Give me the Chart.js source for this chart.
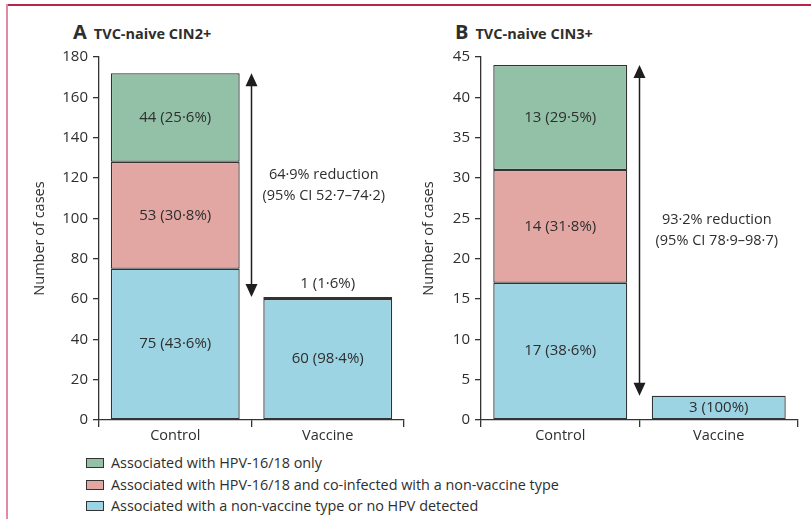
<!DOCTYPE html>
<html>
<head>
<meta charset="utf-8">
<script src="https://cdn.jsdelivr.net/npm/chart.js@4"></script>
<style>
  body { margin: 0; width: 811px; height: 519px; overflow: hidden; background: #fff; position: relative;
         font-family: "Open Sans", sans-serif; color: #2e2e2e; }
  .frame-top { position: absolute; left: 6px; top: 4px; width: 805px; height: 2px; background: #b8234a; }
  .frame-left { position: absolute; left: 6px; top: 4px; width: 2px; height: 515px; background: #df8ca7; }
  canvas { position: absolute; top: 0; }
  #chartA { left: 0; }
  #chartB { left: 410px; }
  .panel-title { position: absolute; top: 20px; font-weight: bold; white-space: nowrap; line-height: 24px; }
  .panel-title .letter { font-size: 20px; margin-right: 7px; }
  .panel-title .name { font-size: 14.5px; }
  .legend { position: absolute; left: 86px; top: 452px; font-size: 14.4px; }
  .legend-row { position: relative; height: 21.5px; line-height: 21.5px; white-space: nowrap; }
  .legend-row .swatch { position: absolute; left: 0; top: 6px; width: 16px; height: 8px; border: 1.3px solid #333; }
  .legend-row .text { position: absolute; left: 25px; top: 0; }
</style>
</head>
<body>
<div class="frame-top"></div>
<div class="frame-left"></div>
<div class="panel-title" style="left:73px"><span class="letter">A</span><span class="name">TVC-naive CIN2+</span></div>
<div class="panel-title" style="left:455px"><span class="letter">B</span><span class="name">TVC-naive CIN3+</span></div>
<canvas id="chartA" width="410" height="450"></canvas>
<canvas id="chartB" width="401" height="450"></canvas>
<div class="legend" id="legend"></div>
<script>
// Groups on the x axis
const categories = ['Control', 'Vaccine'];

// Series names and fills (bottom of stack first)
const seriesNames = [
  'Associated with a non-vaccine type or no HPV detected',
  'Associated with HPV-16/18 and co-infected with a non-vaccine type',
  'Associated with HPV-16/18 only'
];
const seriesColors = ['#9cd4e3', '#e2a7a2', '#93c1a7'];

// Panel A: CIN2+ case counts per series
const cin2NonVaccine = [75, 60];
const cin2Coinfected = [53, 0];
const cin2Hpv1618 = [44, 1];
const cin2PctNonVaccine = ['43·6%', '98·4%'];
const cin2PctCoinfected = ['30·8%', ''];
const cin2PctHpv1618 = ['25·6%', '1·6%'];
const cin2AxisMax = 180;
const cin2AxisStep = 20;
const cin2Reduction = ['64·9% reduction', '(95% CI 52·7–74·2)'];

// Panel B: CIN3+ case counts per series
const cin3NonVaccine = [17, 3];
const cin3Coinfected = [14, 0];
const cin3Hpv1618 = [13, 0];
const cin3PctNonVaccine = ['38·6%', '100%'];
const cin3PctCoinfected = ['31·8%', ''];
const cin3PctHpv1618 = ['29·5%', ''];
const cin3AxisMax = 45;
const cin3AxisStep = 5;
const cin3Reduction = ['93·2% reduction', '(95% CI 78·9–98·7)'];

const INK = '#2e2e2e';
const FONT = '"Open Sans", sans-serif';

// Legend below both panels (top series first)
const legend = document.getElementById('legend');
[2, 1, 0].forEach(i => {
  const row = document.createElement('div');
  row.className = 'legend-row';
  row.innerHTML = '<span class="swatch" style="background:' + seriesColors[i] + '"></span><span class="text"></span>';
  row.querySelector('.text').textContent = seriesNames[i];
  legend.appendChild(row);
});

// Writes "n (pct)" inside each segment, or above the stack when the segment is too thin
const segmentLabels = {
  id: 'segmentLabels',
  afterDatasetsDraw(chart) {
    const ctx = chart.ctx;
    ctx.save();
    ctx.font = '15px ' + FONT;
    ctx.fillStyle = INK;
    ctx.textAlign = 'center';
    ctx.textBaseline = 'middle';
    chart.data.datasets.forEach((ds, di) => {
      chart.getDatasetMeta(di).data.forEach((bar, i) => {
        const v = ds.data[i];
        if (!v || !ds.pct[i]) return;
        const text = v + ' (' + ds.pct[i] + ')';
        const h = Math.abs(bar.base - bar.y);
        if (h >= 20) ctx.fillText(text, bar.x, (bar.y + bar.base) / 2);
        else ctx.fillText(text, bar.x, bar.y - 13);
      });
    });
    ctx.restore();
  }
};

// Double arrow from the control total down to the vaccine total, with the reduction text
const reductionArrow = {
  id: 'reductionArrow',
  afterDraw(chart, args, opts) {
    const xs = chart.scales.x, ys = chart.scales.y;
    const totals = [0, 1].map(i => chart.data.datasets.reduce((s, ds) => s + ds.data[i], 0));
    const x = (xs.getPixelForValue(0) + xs.getPixelForValue(1)) / 2;
    const yTop = ys.getPixelForValue(totals[0]);
    const yBot = ys.getPixelForValue(totals[1]);
    const hw = 6, hl = 13;
    const ctx = chart.ctx;
    ctx.save();
    ctx.strokeStyle = '#1e1e1e';
    ctx.fillStyle = '#1e1e1e';
    ctx.lineWidth = 1.5;
    ctx.beginPath();
    ctx.moveTo(x, yTop + hl - 1);
    ctx.lineTo(x, yBot - hl + 1);
    ctx.stroke();
    ctx.beginPath();
    ctx.moveTo(x, yTop); ctx.lineTo(x - hw, yTop + hl); ctx.lineTo(x + hw, yTop + hl); ctx.closePath();
    ctx.fill();
    ctx.beginPath();
    ctx.moveTo(x, yBot); ctx.lineTo(x - hw, yBot - hl); ctx.lineTo(x + hw, yBot - hl); ctx.closePath();
    ctx.fill();
    // reduction text over the vaccine column, centred on the arrow's midpoint
    ctx.font = '14.5px ' + FONT;
    ctx.fillStyle = INK;
    ctx.textAlign = 'center';
    ctx.textBaseline = 'middle';
    const tx = xs.getPixelForValue(1) + opts.dx;
    const ty = (yTop + yBot) / 2;
    ctx.fillText(opts.lines[0], tx, ty - 10.5);
    ctx.fillText(opts.lines[1], tx, ty + 10.5);
    ctx.restore();
  }
};

function makePanel(canvasId, series, pcts, axisMax, axisStep, reduction, geom) {
  const datasets = series.map((data, i) => ({
    label: seriesNames[i],
    data: data,
    pct: pcts[i],
    backgroundColor: seriesColors[i],
    borderColor: '#333',
    borderWidth: 1.3,
    borderSkipped: false,
    barPercentage: 0.845,
    categoryPercentage: 1
  }));
  return new Chart(document.getElementById(canvasId), {
    type: 'bar',
    data: { labels: categories, datasets: datasets },
    plugins: [segmentLabels, reductionArrow],
    options: {
      responsive: false,
      animation: false,
      devicePixelRatio: 1,
      layout: { padding: { left: 0, top: geom.top, right: geom.right, bottom: 0 } },
      plugins: {
        legend: { display: false },
        tooltip: { enabled: false },
        reductionArrow: { lines: reduction, dx: geom.textDx }
      },
      scales: {
        x: {
          stacked: true,
          afterFit: s => { s.height = geom.xHeight; },
          grid: { display: true, offset: true, drawOnChartArea: false, drawTicks: true, tickLength: 7, color: '#333', lineWidth: 1.3 },
          border: { display: true, color: '#333', width: 1.3 },
          ticks: { color: INK, font: { family: FONT, size: 14.5 }, padding: 0 }
        },
        y: {
          stacked: true,
          min: 0,
          max: axisMax,
          afterFit: s => { s.width = geom.yWidth; },
          grid: { display: true, drawOnChartArea: false, drawTicks: true, tickLength: 6, color: '#333', lineWidth: 1.3 },
          border: { display: true, color: '#333', width: 1.3 },
          ticks: { stepSize: axisStep, color: INK, font: { family: FONT, size: 15 }, padding: 5 },
          title: { display: true, text: 'Number of cases', color: INK, font: { family: FONT, size: 14.5 }, padding: { top: 31, bottom: 0 } }
        }
      }
    }
  });
}

makePanel('chartA',
  [cin2NonVaccine, cin2Coinfected, cin2Hpv1618],
  [cin2PctNonVaccine, cin2PctCoinfected, cin2PctHpv1618],
  cin2AxisMax, cin2AxisStep, cin2Reduction,
  { top: 57, right: 6, xHeight: 30, yWidth: 99, textDx: -4 });

makePanel('chartB',
  [cin3NonVaccine, cin3Coinfected, cin3Hpv1618],
  [cin3PctNonVaccine, cin3PctCoinfected, cin3PctHpv1618],
  cin3AxisMax, cin3AxisStep, cin3Reduction,
  { top: 57, right: 13, xHeight: 30, yWidth: 71, textDx: -2 });

// panel B's axis title sits closer to its canvas edge
Chart.getChart('chartB').options.scales.y.title.padding = { top: 10, bottom: 0 };
Chart.getChart('chartB').update();
</script>
</body>
</html>
